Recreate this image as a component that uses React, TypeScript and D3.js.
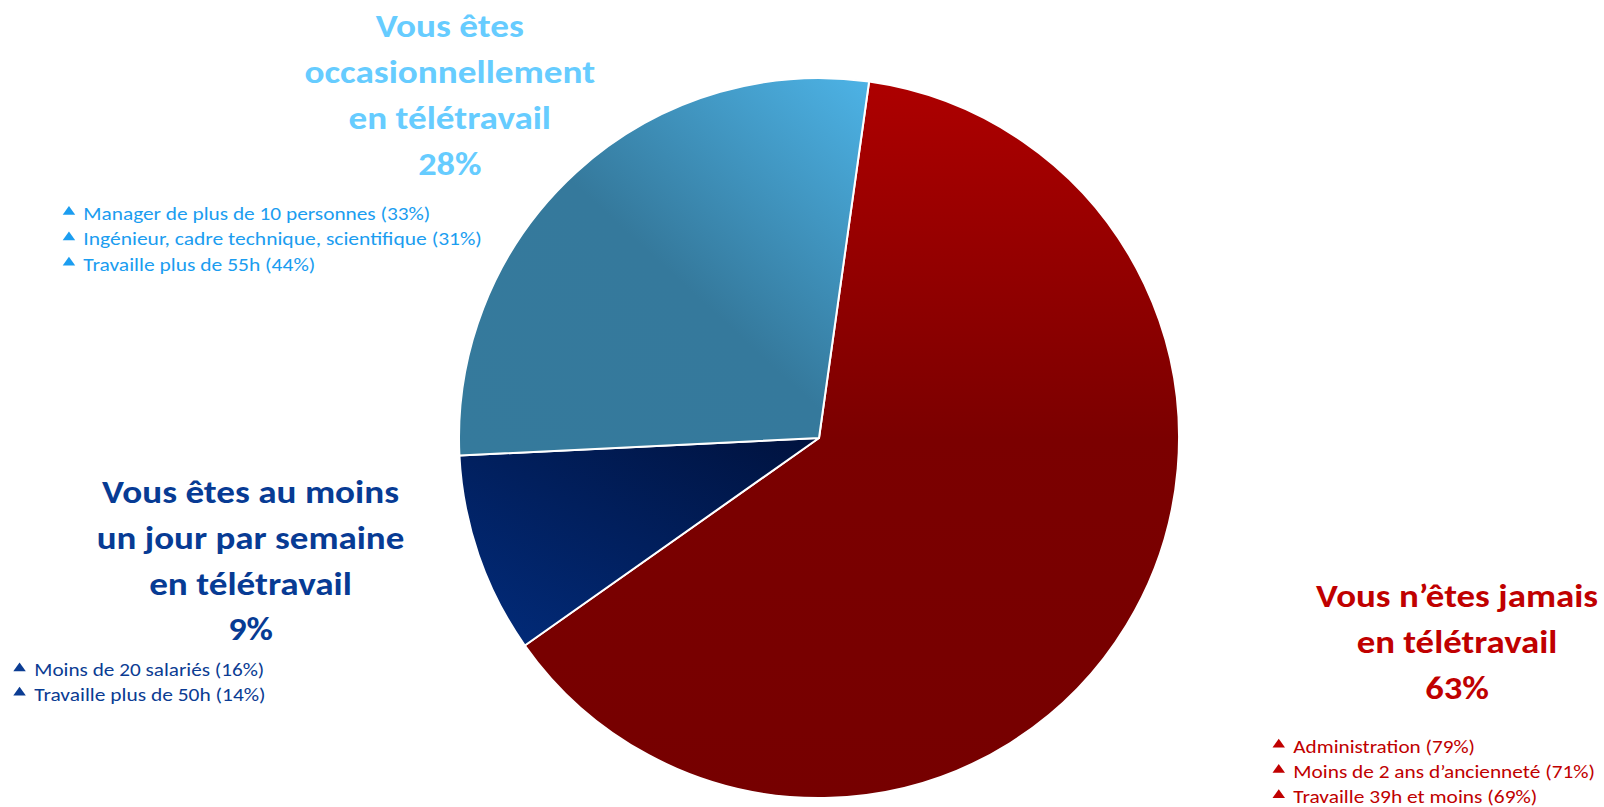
import React from 'react';
import * as d3 from 'd3';

// ---- data ----
const sliceKeys = ['never', 'weekly', 'occasional'];
const sliceValues = [63, 9, 28];
const titleNever = ['Vous n’êtes jamais', 'en télétravail'];
const titleWeekly = ['Vous êtes au moins', 'un jour par semaine', 'en télétravail'];
const titleOccasional = ['Vous êtes', 'occasionnellement', 'en télétravail'];
const bulletsNever = ['Administration (79%)', 'Moins de 2 ans d’ancienneté (71%)', 'Travaille 39h et moins (69%)'];
const bulletsWeekly = ['Moins de 20 salariés (16%)', 'Travaille plus de 50h (14%)'];
const bulletsOccasional = ['Manager de plus de 10 personnes (33%)', 'Ingénieur, cadre technique, scientifique (31%)', 'Travaille plus de 55h (44%)'];

// ---- layout ----
const W = 1604, H = 807;
const CX = 819, CY = 438, R = 360;
const START = (8 * Math.PI) / 180;
const FONT = 'Carlito, Lato, "Open Sans", sans-serif';

const groups = [
  {
    key: 'never', title: titleNever, value: sliceValues[0], bullets: bulletsNever,
    titleColor: '#c00000', bulletColor: '#c00000',
    cx: 1457, titleBase: [607.3, 653.3, 699.3], titleW: [282, 200.7, 63.7],
    triX: 1272.5, textX: 1293.3, bulletBase: [752.5, 777.8, 803], bulletW: [181.7, 301.7, 244],
  },
  {
    key: 'weekly', title: titleWeekly, value: sliceValues[1], bullets: bulletsWeekly,
    titleColor: '#073b94', bulletColor: '#0b3c93',
    cx: 250.5, titleBase: [503.3, 549.3, 595, 640], titleW: [297, 307.7, 202.7, 44.7],
    triX: 13.3, textX: 34.3, bulletBase: [676.3, 700.5], bulletW: [230, 231.3],
  },
  {
    key: 'occasional', title: titleOccasional, value: sliceValues[2], bullets: bulletsOccasional,
    titleColor: '#66ccff', bulletColor: '#1b9df0',
    cx: 449.8, titleBase: [37.3, 83.3, 129.3, 175], titleW: [148, 290.6, 202.4, 63.3],
    triX: 62.7, textX: 83.3, bulletBase: [219.8, 245.3, 270.5], bulletW: [347, 398.6, 232],
  },
];

const fills: Record<string, string> = {
  never: 'url(#gNever)',
  weekly: 'url(#gWeekly)',
  occasional: 'url(#gOcc)',
};

export default function App() {
  const pie = d3.pie<number>().sort(null).value((d) => d).startAngle(START).endAngle(START + 2 * Math.PI);
  const arcs = pie(sliceValues);
  const arcGen = d3.arc<d3.PieArcDatum<number>>().innerRadius(0).outerRadius(R);

  return (
    <div style={{ position: 'absolute', left: 0, top: 0, width: W, height: H, background: '#fff' }}>
      <svg width={W} height={H} style={{ display: 'block' }}>
        <defs>
          <linearGradient id="gNever" x1="0" y1="0" x2="0" y2="1">
            <stop offset="0" stopColor="#ad0000" />
            <stop offset="0.5" stopColor="#7b0000" />
            <stop offset="1" stopColor="#760000" />
          </linearGradient>
          <linearGradient id="gWeekly" x1="1" y1="0" x2="0" y2="1">
            <stop offset="0" stopColor="#00123e" />
            <stop offset="1" stopColor="#022c7c" />
          </linearGradient>
          <linearGradient id="gOcc" x1="1" y1="0" x2="0" y2="1">
            <stop offset="0" stopColor="#4db3e6" />
            <stop offset="0.5" stopColor="#35799c" />
            <stop offset="1" stopColor="#357a9c" />
          </linearGradient>
        </defs>
        <g transform={`translate(${CX},${CY})`}>
          {arcs.map((a, i) => (
            <path key={sliceKeys[i]} d={arcGen(a) || ''} fill={fills[sliceKeys[i]]} stroke="#ffffff" strokeWidth={2} strokeLinejoin="round" />
          ))}
        </g>
        {groups.map((g) => {
          const lines = [...g.title, `${g.value}%`];
          return (
            <g key={g.key}>
              {lines.map((t, j) => (
                <text key={j} x={g.cx} y={g.titleBase[j]} textAnchor="middle" fontFamily={FONT} fontWeight={700} fontSize={33}
                  fill={g.titleColor} textLength={g.titleW[j]} lengthAdjust="spacingAndGlyphs">{t}</text>
              ))}
              {g.bullets.map((b, j) => {
                const y = g.bulletBase[j];
                const tb = y - 5, th = 8.8, tw = 12.5;
                return (
                  <g key={'b' + j}>
                    <path d={`M${g.triX},${tb} L${g.triX + tw},${tb} L${g.triX + tw / 2},${tb - th} Z`} fill={g.bulletColor} />
                    <text x={g.textX} y={y} fontFamily={FONT} fontSize={18.5} fill={g.bulletColor}
                      textLength={g.bulletW[j]} lengthAdjust="spacingAndGlyphs">{b}</text>
                  </g>
                );
              })}
            </g>
          );
        })}
      </svg>
    </div>
  );
}
